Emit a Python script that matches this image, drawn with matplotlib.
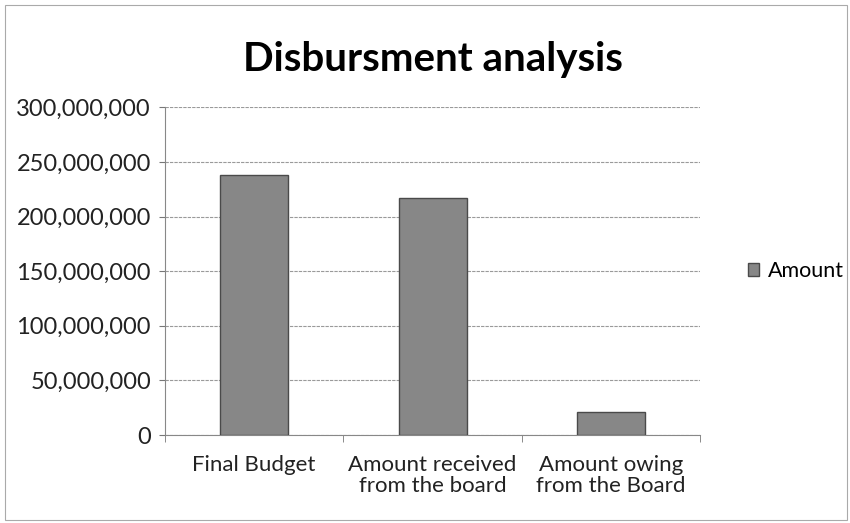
import numpy as np
import matplotlib.pyplot as plt
from matplotlib.ticker import FuncFormatter, FixedLocator

# Daten aus dem Diagramm
kategorien = ["Final Budget", "Amount received\nfrom the board", "Amount owing\nfrom the Board"]
betraege = [238000000, 217000000, 21000000]
y_ticks = [0, 50000000, 100000000, 150000000, 200000000, 250000000, 300000000]

plt.rcParams['font.family'] = ['Lato', 'DejaVu Sans']

fig = plt.figure(figsize=(8.5, 5.23), dpi=100)
ax = fig.add_axes([0.194, 0.168, 0.63, 0.627])

x = np.arange(len(kategorien))
ax.bar(x, betraege, width=0.38, color='#878787', edgecolor='#4a4a4a', linewidth=1.0,
       label='Amount', zorder=3)

ax.set_xlim(-0.5, len(kategorien) - 0.5)
ax.set_ylim(0, 300000000)
ax.set_yticks(y_ticks)
ax.yaxis.set_major_formatter(FuncFormatter(lambda v, p: '{:,.0f}'.format(v)))
ax.grid(axis='y', color='#9a9a9a', linewidth=0.8, linestyle=(0, (3, 1)), zorder=0)

# Kategorien-Beschriftung ohne Ticks, Ticks zwischen den Kategorien
ax.set_xticks(x)
ax.set_xticklabels(kategorien, fontsize=16, color='#222222', linespacing=1.1)
ax.tick_params(axis='x', length=0, pad=14)
ax.xaxis.set_minor_locator(FixedLocator([-0.5, 0.5, 1.5, 2.5]))
ax.tick_params(axis='x', which='minor', length=5, color='#777777')
ax.tick_params(axis='y', length=4, color='#777777', labelsize=17, labelcolor='#222222', pad=6)

for s in ['top', 'right']:
    ax.spines[s].set_visible(False)
ax.spines['left'].set_color('#888888')
ax.spines['bottom'].set_color('#888888')

ax.set_title('Disbursment analysis', fontsize=29, fontweight='bold', pad=26)

ax.legend(loc='center left', bbox_to_anchor=(1.052, 0.5), frameon=False, fontsize=15.5,
          handlelength=0.55, handleheight=0.55, handletextpad=0.4)

# Rahmen um die ganze Grafik
fig.patches.append(plt.Rectangle((0.006, 0.006), 0.99, 0.985, transform=fig.transFigure,
                                 fill=False, edgecolor='#aaaaaa', linewidth=0.8))

fig.savefig('out.png', dpi=100)
